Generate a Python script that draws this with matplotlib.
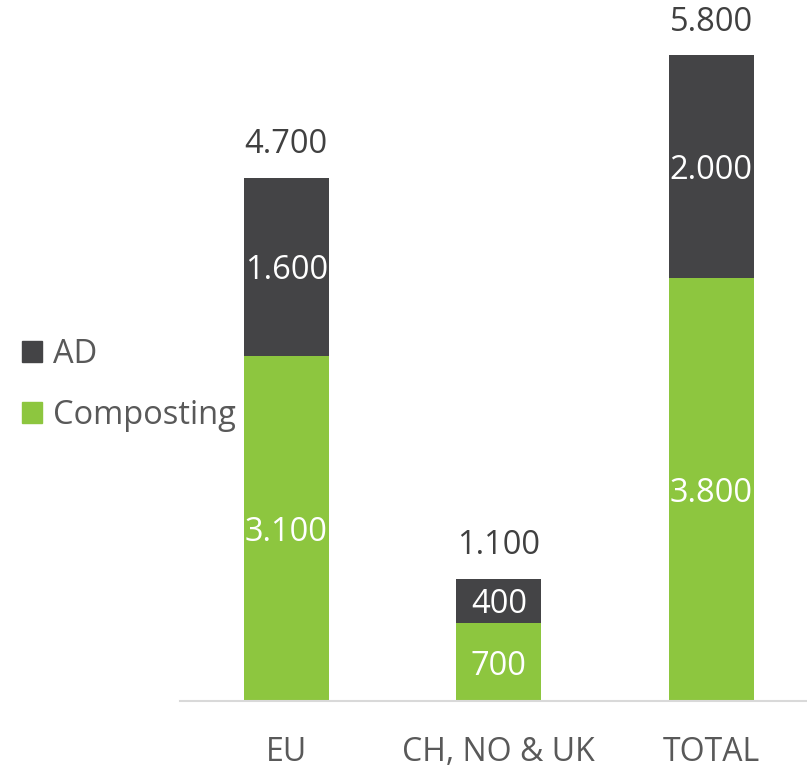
import matplotlib
matplotlib.use("Agg")
import matplotlib.pyplot as plt
from matplotlib.patches import Patch
import matplotlib.transforms as mtransforms
import numpy as np

categories = ["EU", "CH, NO & UK", "TOTAL"]
composting = [3100, 700, 3800]
ad = [1600, 400, 2000]

green = "#8dc63f"
dark = "#444446"
textc = "#404040"

def fmt(v):
    # dot as thousands separator
    return "{:,}".format(v).replace(",", ".")

plt.rcParams["font.family"] = ["Open Sans", "DejaVu Sans"]

fig = plt.figure(figsize=(8.07, 7.68), dpi=100)
ax = fig.add_axes([180/807, 67/768, 637.5/807, 668/768])

x = np.arange(len(categories))
totals = [c + a for c, a in zip(composting, ad)]
ax.bar(x, composting, width=0.4, color=green)
ax.bar(x, ad, width=0.4, bottom=composting, color=dark)

fs = 23.5
for i in range(len(x)):
    ax.text(x[i], composting[i]/2, fmt(composting[i]), ha="center",
            va="center_baseline", color="white", fontsize=fs)
    ax.text(x[i], composting[i] + ad[i]/2, fmt(ad[i]), ha="center",
            va="center_baseline", color="white", fontsize=fs)
    ax.text(x[i], totals[i] + 150, fmt(totals[i]), ha="center", va="bottom",
            color=textc, fontsize=fs, clip_on=False)

ax.set_xlim(-0.5, 2.5)
ax.set_ylim(0, 6000)
ax.set_xticks([])
ax.set_yticks([])
# category labels, baseline placed a fixed distance below the axis
trans = mtransforms.blended_transform_factory(ax.transData, fig.transFigure)
for i, c in enumerate(categories):
    ax.text(x[i], 7/768, c, ha="center", va="baseline", transform=trans,
            fontsize=fs - 0.5, color="#595959", clip_on=False)
for s in ["top", "right", "left"]:
    ax.spines[s].set_visible(False)
ax.spines["bottom"].set_color("#d9d9d9")
ax.spines["bottom"].set_linewidth(1.5)

handles = [Patch(color=dark, label="AD"), Patch(color=green, label="Composting")]
fig.legend(handles=handles, loc="center left", bbox_to_anchor=(22/807, 383/768),
           frameon=False, fontsize=fs, labelcolor="#595959", handlelength=0.6,
           handleheight=0.6, handletextpad=0.35, labelspacing=0.85,
           borderpad=0, borderaxespad=0)

fig.savefig("out.png", dpi=100)
